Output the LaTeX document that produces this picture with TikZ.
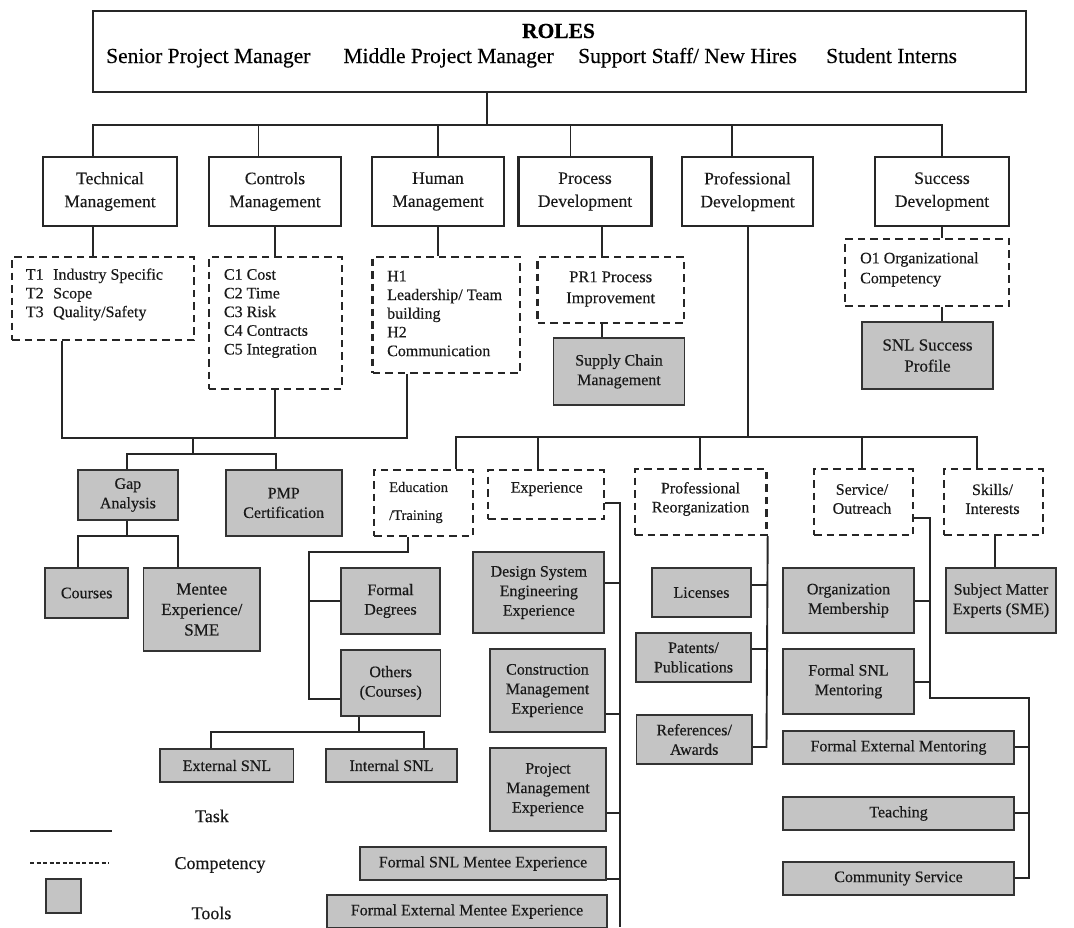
\documentclass[tikz,border=0pt]{standalone}
\usepackage{fontspec}
\setmainfont{Liberation Serif}[FakeBold=0.35]
\begin{document}
\begin{tikzpicture}[x=1pt,y=-1pt,
  base/.style={inner sep=0pt, align=center, text=black!90},
  task/.style={base, draw=black!85, line width=2.2pt, font=\fontsize{17.5}{23}\selectfont},
  comp/.style={base, draw=black!85, line width=2.4pt, dash pattern=on 7.5pt off 5pt},
  tool/.style={base, draw=black!80, fill=black!23, line width=1.9pt, font=\fontsize{16}{19.5}\selectfont},
  ctext/.style={inner sep=0pt, text=black!90, font=\fontsize{16}{18.7}\selectfont},
  link/.style={draw=black!85, line width=1.9pt},
  legtext/.style={inner sep=0pt, text=black!90, font=\fontsize{18}{21}\selectfont}]
\useasboundingbox (0,0) rectangle (1074,927);

% ---------- roles ----------
\node[base, draw=black!85, line width=1.9pt, minimum width=933, minimum height=81] (roles) at (559.5,51.5) {};
\node[inner sep=0pt, anchor=base, font=\fontsize{21.5}{26}\selectfont\bfseries] (rolestitle) at (558.5,38) {ROLES};
\begin{scope}[every node/.style={inner sep=0pt, anchor=base west, font=\fontsize{21.5}{26}\selectfont}]
  \node (role1) at (106,63) {Senior Project Manager};
  \node (role2) at (343.3,63) {Middle Project Manager};
  \node (role3) at (578,63) {Support Staff/ New Hires};
  \node (role4) at (826,63) {Student Interns};
\end{scope}

% ---------- task areas ----------
\node[task, minimum width=134.5, minimum height=69] (tech) at (110,191.5) {Technical\\Management};
\node[task, minimum width=132, minimum height=69] (ctrl) at (275,191.5) {Controls\\Management};
\node[task, minimum width=131.5, minimum height=69] (hum) at (438,191.5) {Human\\Management};
\node[task, minimum width=133, minimum height=69] (proc) at (585,191.5) {Process\\Development};
\node[task, minimum width=131, minimum height=69] (prof) at (747.5,191.5) {Professional\\Development};
\node[task, minimum width=134, minimum height=69] (succ) at (942,191.5) {Success\\Development};

% ---------- competencies ----------
\node[comp, minimum width=182, minimum height=83] (tcomp) at (103,298.5) {};
\node[ctext, anchor=west, align=left] (ttext) at (25.7,294.5) {T1\hspace{9.5pt}Industry Specific\\T2\hspace{9.5pt}Scope\\T3\hspace{9.5pt}Quality/Safety};
\node[comp, minimum width=133, minimum height=132] (ccomp) at (275.2,323) {};
\node[ctext, anchor=west, align=left] (ctext1) at (223.8,313.5) {C1 Cost\\C2 Time\\C3 Risk\\C4 Contracts\\C5 Integration};
\node[comp, minimum width=147.5, minimum height=116] (hcomp) at (446.3,315) {};
\node[ctext, anchor=west, align=left] (htext) at (387,313.5) {H1\\Leadership/ Team\\building\\H2\\Communication};
\node[comp, minimum width=146.2, minimum height=66] (prcomp) at (610.7,290) {};
\node[ctext, align=center, font=\fontsize{16.5}{21}\selectfont] (prtext) at (610.7,289) {PR1 Process\\Improvement};
\node[comp, minimum width=164, minimum height=67] (ocomp) at (927,272.5) {};
\node[ctext, anchor=west, align=left, font=\fontsize{16}{20}\selectfont] (otext) at (860,269.5) {O1 Organizational\\Competency};

\node[comp, minimum width=99, minimum height=66] (edu) at (423.5,503) {};
\node[ctext, anchor=west, align=left, font=\fontsize{14.5}{28}\selectfont] (edutext) at (389,502.5) {Education\\/Training};
\node[comp, minimum width=116, minimum height=49] (exp) at (546,494.5) {};
\node[ctext] (exptext) at (546.7,489) {Experience};
\node[comp, minimum width=131.5, minimum height=66] (reorg) at (700.75,502) {};
\node[ctext, align=center, font=\fontsize{16}{19}\selectfont] (reorgtext) at (700.5,499) {Professional\\Reorganization};
\node[comp, minimum width=99, minimum height=66] (service) at (863.5,502) {};
\node[ctext, align=center, font=\fontsize{16}{19}\selectfont] (servicetext) at (862,499) {Service/\\Outreach};
\node[comp, minimum width=99, minimum height=66] (skills) at (993.5,502) {};
\node[ctext, align=center, font=\fontsize{16}{19}\selectfont] (skillstext) at (992.5,499) {Skills/\\Interests};

% ---------- tools ----------
\node[tool, minimum width=131, minimum height=67] (supply) at (619,371.5) {Supply Chain\\Management};
\node[tool, minimum width=131, minimum height=67, font=\fontsize{17}{21}\selectfont] (profile) at (927.5,355.5) {SNL Success\\Profile};
\node[tool, minimum width=100, minimum height=50] (gap) at (127.9,495) {Gap\\Analysis};
\node[tool, minimum width=115.7, minimum height=66] (pmp) at (283.7,503) {PMP\\Certification};
\node[tool, minimum width=82.7, minimum height=50] (courses) at (86.7,593) {Courses};
\node[tool, minimum width=116.7, minimum height=83, font=\fontsize{17}{20.5}\selectfont] (mentee) at (201.8,609.5) {Mentee\\Experience/\\SME};
\node[tool, minimum width=99, minimum height=66] (degrees) at (390.5,601) {Formal\\Degrees};
\node[tool, minimum width=99.5, minimum height=66] (others) at (390.7,683) {Others\\(Courses)};
\node[tool, minimum width=133.2, minimum height=33] (extsnl) at (226.9,765.5) {External SNL};
\node[tool, minimum width=131, minimum height=33] (intsnl) at (391.5,765.5) {Internal SNL};
\node[tool, minimum width=131, minimum height=81] (design) at (538.8,592.5) {Design System\\Engineering\\Experience};
\node[tool, minimum width=115, minimum height=83] (construct) at (547.5,690.5) {Construction\\Management\\Experience};
\node[tool, minimum width=116, minimum height=83] (project) at (548,789.5) {Project\\Management\\Experience};
\node[tool, minimum width=246, minimum height=33] (snlmentee) at (483,863.5) {Formal SNL Mentee Experience};
\node[tool, minimum width=279.4, minimum height=33] (extmentee) at (467,911.5) {Formal External Mentee Experience};
\node[tool, minimum width=99, minimum height=49] (licenses) at (701.5,592.5) {Licenses};
\node[tool, minimum width=115, minimum height=49] (patents) at (693.5,657.5) {Patents/\\Publications};
\node[tool, minimum width=115.5, minimum height=49] (refs) at (694.2,739.5) {References/\\Awards};
\node[tool, minimum width=131, minimum height=65] (orgmember) at (848.5,600.5) {Organization\\Membership};
\node[tool, minimum width=131, minimum height=65] (snlmentor) at (848.5,681.5) {Formal SNL\\Mentoring};
\node[tool, minimum width=231, minimum height=33] (extmentor) at (898.5,747.5) {Formal External Mentoring};
\node[tool, minimum width=231, minimum height=33] (teaching) at (898.5,813.5) {Teaching};
\node[tool, minimum width=231, minimum height=33] (community) at (898.5,878.5) {Community Service};
\node[tool, minimum width=110, minimum height=65] (sme) at (1001,600.5) {Subject Matter\\Experts (SME)};

% ---------- connectors: roles to task areas ----------
\coordinate (r0) at (487,125);
\coordinate (bT) at (93.4,125);
\coordinate (bC) at (258.5,125);
\coordinate (bH) at (438,125);
\coordinate (bP) at (570.5,125);
\coordinate (bD) at (732,125);
\coordinate (bS) at (942,125);
\draw[link] (roles.south -| r0) -- (r0);
\draw[link] (tech.north -| bT) -- (bT) -- (bS) -- (succ.north -| bS);
\foreach \b/\n in {bC/ctrl,bH/hum,bP/proc,bD/prof}
  \draw[link] (\b) -- (\n.north -| \b);

% ---------- task areas to competencies ----------
\draw[link] (tech.south -| bT) -- (tcomp.north -| bT);
\draw[link] (ctrl.south) -- (ccomp.north -| ctrl.south);
\draw[link] (hum.south) -- (hcomp.north -| hum.south);
\coordinate (xPR) at (602,300);
\draw[link] (proc.south -| xPR) -- (prcomp.north -| xPR);
\draw[link] (prcomp.south -| xPR) -- (supply.north -| xPR);
\draw[link] (succ.south) -- (ocomp.north -| succ.south);
\draw[link] (ocomp.south -| succ.south) -- (profile.north -| succ.south);

% ---------- technical / controls / human tools ----------
\coordinate (lb1) at (61.8,438);
\coordinate (lb2) at (193.3,438);
\coordinate (lb3) at (406.8,438);
\coordinate (lb4) at (193.3,454);
\coordinate (gl) at (127,454);
\coordinate (gr) at (275.7,454);
\draw[link] (tcomp.south -| lb1) -- (lb1) -- (lb3) -- (hcomp.south -| lb3);
\draw[link] (ccomp.south) -- (ccomp.south |- lb1);
\draw[link] (lb2) -- (lb4);
\draw[link] (gap.north -| gl) -- (gl) -- (gr) -- (pmp.north -| gr);
\coordinate (gb) at (127,536);
\coordinate (cl) at (78.3,536);
\coordinate (cr) at (177.8,536);
\draw[link] (gap.south -| gb) -- (gb);
\draw[link] (courses.north -| cl) -- (cl) -- (cr) -- (mentee.north -| cr);

% ---------- professional development ----------
\coordinate (bProf) at (748,437);
\coordinate (pb1) at (456,437);
\coordinate (pb2) at (537.7,437);
\coordinate (pb3) at (700,437);
\coordinate (pb4) at (862,437);
\coordinate (pb5) at (977,437);
\draw[link] (prof.south -| bProf) -- (bProf);
\draw[link] (edu.north -| pb1) -- (pb1) -- (pb5) -- (skills.north -| pb5);
\foreach \b/\n in {pb2/exp,pb3/reorg,pb4/service}
  \draw[link] (\b) -- (\n.north -| \b);

% education / training
\coordinate (e1) at (408,552);
\coordinate (e2) at (309,552);
\coordinate (e3) at (309,699);
\draw[link] (edu.south -| e1) -- (e1) -- (e2) -- (e3) -- (others.west |- e3);
\draw[link] (e2 |- degrees.west) -- (degrees.west);
\coordinate (o1) at (359,732);
\coordinate (o2) at (211,732);
\coordinate (o3) at (424,732);
\draw[link] (others.south -| o1) -- (o1);
\draw[link] (extsnl.north -| o2) -- (o2) -- (o3) -- (intsnl.north -| o3);

% experience
\coordinate (x1) at (620,503);
\coordinate (x2) at (620,927);
\draw[link] (exp.east |- x1) -- (x1) -- (x2);
\foreach \y/\n in {583/design,714/construct,813/project,879/snlmentee}{
  \coordinate (xb) at (620,\y);
  \draw[link] (\n.east |- xb) -- (xb);
}

% professional reorganization
\coordinate (rb) at (766.5,747);
\draw[link] (reorg.south east) -- (rb) -- (refs.east |- rb);
\foreach \y/\n in {585/licenses,649/patents}{
  \coordinate (rr) at (766.5,\y);
  \draw[link] (\n.east |- rr) -- (rr);
}

% service / outreach
\coordinate (s1) at (930,518);
\coordinate (s2) at (930,698);
\coordinate (s3) at (1029,698);
\coordinate (s4) at (1029,878);
\draw[link] (service.east |- s1) -- (s1) -- (s2) -- (s3) -- (s4) -- (community.east |- s4);
\foreach \y/\n in {601/orgmember,682/snlmentor}{
  \coordinate (sb) at (930,\y);
  \draw[link] (\n.east |- sb) -- (sb);
}
\foreach \y/\n in {747/extmentor,813/teaching}{
  \coordinate (sc) at (1029,\y);
  \draw[link] (\n.east |- sc) -- (sc);
}

% skills / interests
\coordinate (k1) at (995,535);
\draw[link] (skills.south -| k1) -- (sme.north -| k1);

% ---------- legend ----------
\coordinate (lg1) at (30,831);
\coordinate (lg2) at (112,831);
\coordinate (lg3) at (30,863);
\coordinate (lg4) at (109,863);
\draw[link, line width=2.2pt] (lg1) -- (lg2);
\draw[draw=black!85, line width=1.5pt, dash pattern=on 4pt off 2.5pt] (lg3) -- (lg4);
\node[tool, minimum width=34.4, minimum height=34] (lgtool) at (63.5,896) {};
\node[legtext] (lgtask) at (212,816) {Task};
\node[legtext] (lgcomp) at (220,865) {Competency};
\node[legtext] (lgtools) at (211.5,913) {Tools};
\end{tikzpicture}
\end{document}
